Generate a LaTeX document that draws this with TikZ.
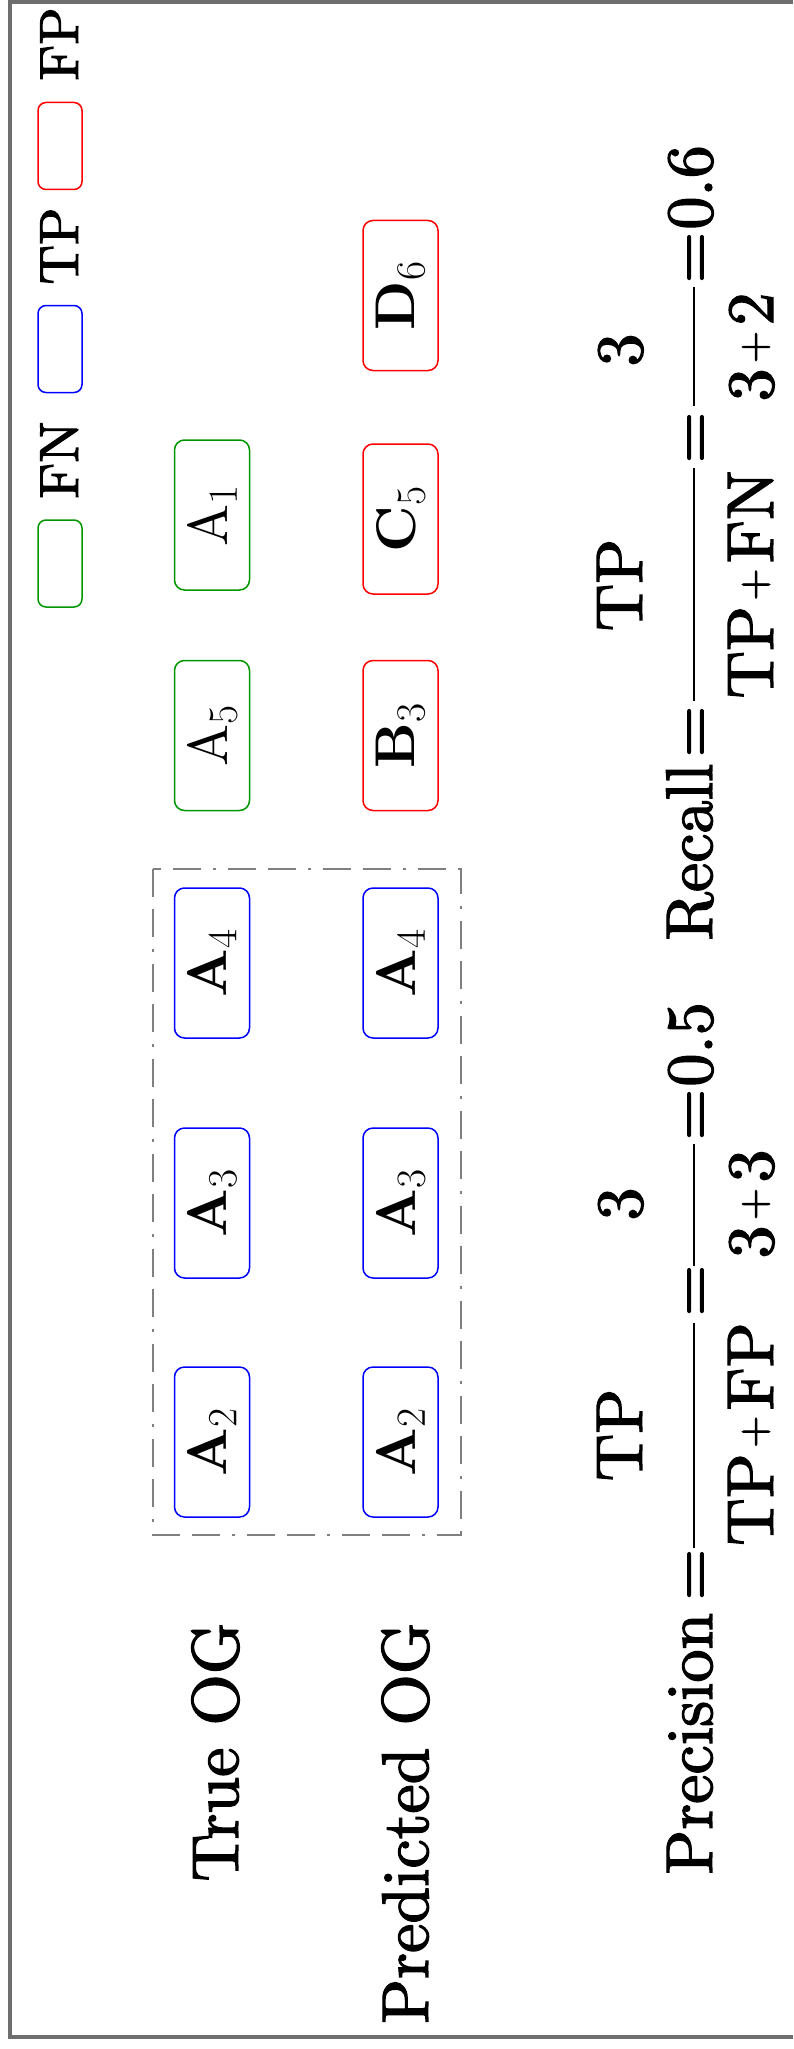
\documentclass[tikz,border=0pt]{standalone}
\usepackage{graphicx}
\usepackage{fontspec}
\setmainfont{lmroman10-regular.otf}[BoldFont=lmroman10-bold.otf,ItalicFont=lmroman10-italic.otf]
\newfontfamily\heavyfont{lmroman10-regular.otf}[FakeBold=2]
\definecolor{tpblue}{RGB}{0,0,255}
\definecolor{fpred}{RGB}{255,0,0}
\definecolor{fngreen}{RGB}{0,150,0}
\definecolor{framegray}{RGB}{110,110,110}
\definecolor{dashgray}{RGB}{128,128,128}
\newcommand\plussm{\hspace{0.08em}\raisebox{0.1em}{\scalebox{0.63}{+}}\hspace{0.08em}}
\begin{document}
\begin{tikzpicture}[x=0.5pt,y=-0.5pt,
  txt/.style={rotate=90,inner sep=0pt,font=\heavyfont\fontsize{33}{40}\selectfont},
  legtxt/.style={rotate=90,inner sep=0pt,font=\heavyfont\fontsize{27.5}{33}\selectfont},
  ogbox/.style={rotate=90,draw,rounded corners=5pt,line width=0.75pt,minimum width=75pt,minimum height=37.5pt,inner sep=0pt,font=\fontsize{28}{34}\selectfont},
  legbox/.style={rotate=90,draw,rounded corners=4pt,line width=0.75pt,minimum width=43.5pt,minimum height=22pt,inner sep=0pt},
  tpc/.style={draw=tpblue},
  fpc/.style={draw=fpred},
  fnc/.style={draw=fngreen},
  fracbar/.style={line width=1.4pt},
  groupframe/.style={draw=dashgray,line width=0.75pt,dash pattern=on 14pt off 6pt on 14pt off 6pt on 1.5pt off 6pt},
  frame/.style={draw=framegray,line width=1.6pt}]
\useasboundingbox (0,0) rectangle (793,2049);
% outer frame
\draw[frame] (793,2) -- (10,2) -- (10,2037) -- (793,2037);
% legend
\node[legbox,fnc] (lgfn) at (60,563.5) {};
\node[legtxt,anchor=base west] (lgfntxt) at (78,499) {FN};
\node[legbox,tpc] (lgtp) at (60,349) {};
\node[legtxt,anchor=base west] (lgtptxt) at (78,285) {TP};
\node[legbox,fpc] (lgfp) at (60,146) {};
\node[legtxt,anchor=base west] (lgfptxt) at (78,81) {FP};
% row labels
\node[txt,anchor=base east] (trueog) at (238,1622) {True OG};
\node[txt,anchor=base east] (predog) at (428,1622) {Predicted OG};
% group frame
\draw[groupframe] (153,869) rectangle (461,1535);
% true OG boxes
\node[ogbox,tpc] (t2) at (212,1442) {$\mathbf{A}_2$};
\node[ogbox,tpc] (t3) at (212,1203) {$\mathbf{A}_3$};
\node[ogbox,tpc] (t4) at (212,963) {$\mathbf{A}_4$};
\node[ogbox,fnc] (t5) at (212,735.5) {$\mathrm{A}_5$};
\node[ogbox,fnc] (t1) at (212,515) {$\mathrm{A}_1$};
% predicted OG boxes
\node[ogbox,tpc] (p2) at (400.5,1442) {$\mathbf{A}_2$};
\node[ogbox,tpc] (p3) at (400.5,1203) {$\mathbf{A}_3$};
\node[ogbox,tpc] (p4) at (400.5,963) {$\mathbf{A}_4$};
\node[ogbox,fpc] (pb) at (400.5,735.5) {$\mathbf{B}_3$};
\node[ogbox,fpc] (pc) at (400.5,519) {$\mathbf{C}_5$};
\node[ogbox,fpc] (pd) at (400.5,295.5) {$\mathbf{D}_6$};
% precision
\node[txt,anchor=base west] (prec) at (712,1875) {Precision};
\node[txt,anchor=base] (eqa) at (712,1574.5) {=};
\node[txt,anchor=base] (na) at (642,1435) {TP};
\node[txt,anchor=base] (da) at (773,1434) {TP\plussm FP};
\coordinate (bas) at (694,1548);
\coordinate (bae) at (694,1323);
\draw[fracbar] (bas) -- (bae);
\node[txt,anchor=base] (eqb) at (712,1290.5) {=};
\node[txt,anchor=base] (nb) at (642,1204) {3};
\node[txt,anchor=base] (db) at (773,1204) {3\plussm 3};
\coordinate (bbs) at (694,1266);
\coordinate (bbe) at (694,1144);
\draw[fracbar] (bbs) -- (bbe);
\node[txt,anchor=base] (eqc) at (712,1114.5) {=};
\node[txt,anchor=base west] (vala) at (712,1087) {0.5};
% recall
\node[txt,anchor=base west] (rec) at (712,941) {Recall};
\node[txt,anchor=base] (eqd) at (712,731.5) {=};
\node[txt,anchor=base] (nc) at (642,585) {TP};
\node[txt,anchor=base] (dc) at (773,584.5) {TP\plussm FN};
\coordinate (bcs) at (694,701);
\coordinate (bce) at (694,468);
\draw[fracbar] (bcs) -- (bce);
\node[txt,anchor=base] (eqe) at (712,437.5) {=};
\node[txt,anchor=base] (nd) at (642,350) {3};
\node[txt,anchor=base] (dd) at (773,347) {3\plussm 2};
\coordinate (bds) at (694,406);
\coordinate (bde) at (694,287);
\draw[fracbar] (bds) -- (bde);
\node[txt,anchor=base] (eqf) at (712,257.5) {=};
\node[txt,anchor=base west] (valb) at (712,230) {0.6};
\end{tikzpicture}
\end{document}
